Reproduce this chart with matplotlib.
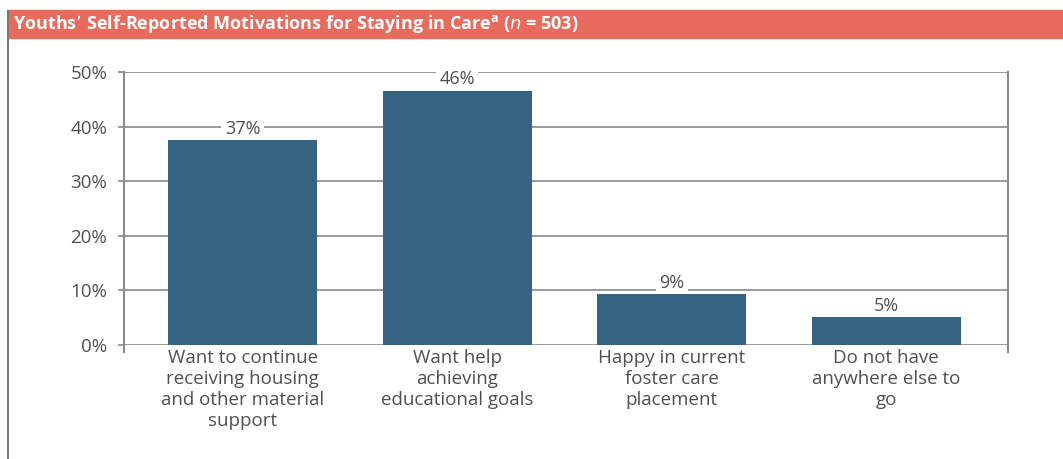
import matplotlib
matplotlib.use('Agg')
import matplotlib.pyplot as plt
from matplotlib.patches import Rectangle
from matplotlib.lines import Line2D

# 数据
categories = ['Want to continue\nreceiving housing\nand other material\nsupport',
              'Want help\nachieving\neducational goals',
              'Happy in current\nfoster care\nplacement',
              'Do not have\nanywhere else to\ngo']
values = [37.6, 46.6, 9.3, 5.2]
value_labels = ['37%', '46%', '9%', '5%']
yticks = [0, 10, 20, 30, 40, 50]
ytick_labels = ['0%', '10%', '20%', '30%', '40%', '50%']

title = 'Youths\u2019 Self-Reported Motivations for Staying in Care$^{\\mathregular{a}}$ ($\\mathregular{\\mathit{n}}$ = 503)'

bar_color = '#346481'
banner_color = '#E86B5D'
text_color = '#505050'
grid_color = '#8a8a8a'

plt.rcParams['font.family'] = ['Open Sans', 'DejaVu Sans']

W, H = 1063, 459
fig = plt.figure(figsize=(W / 100, H / 100), dpi=100)

# 标题横幅
fig.patches.append(Rectangle((8 / W, 1 - 38 / H), 1 - 8 / W, 28 / H,
                             transform=fig.transFigure, color=banner_color, zorder=0))
fig.text(13 / W, 1 - 24 / H, title, color='white', fontsize=13, fontweight='bold',
         va='center', ha='left')
# 左侧边框线
fig.lines.append(Line2D([8 / W, 8 / W], [0, 1 - 11 / H], transform=fig.transFigure,
                        color='#777777', linewidth=1.5))

# 坐标轴区域
left, right, top, bottom = 124, 1008, 72, 345
ax = fig.add_axes([left / W, 1 - bottom / H, (right - left) / W, (bottom - top) / H])

x = range(len(categories))
ax.bar(x, values, width=0.695, color=bar_color, zorder=3)

ax.set_ylim(0, 50)
ax.set_xlim(-0.553, 3.567)
ax.set_yticks(yticks)
ax.set_yticklabels(ytick_labels, fontsize=13.5, color=text_color)
ax.set_xticks(list(x))
ax.set_xticklabels(categories, fontsize=13.5, color=text_color, linespacing=1.22, va='top')
ax.tick_params(axis='x', length=0, pad=3)
ax.tick_params(axis='y', length=4, width=1.2, color=grid_color, pad=8)

ax.grid(axis='y', color=grid_color, linewidth=1.2, zorder=1)
ax.set_axisbelow(True)

for side in ['top', 'bottom']:
    ax.spines[side].set_visible(False)
for side in ['left', 'right']:
    ax.spines[side].set_color(grid_color)
    ax.spines[side].set_linewidth(1.5)
    ax.spines[side].set_bounds(-1.2, 50)
    ax.spines[side].set_clip_on(False)

# 数值标签（白底遮住网格线，但在柱子下层）
for i, (v, lab) in enumerate(zip(values, value_labels)):
    ax.annotate(lab, (i, v), xytext=(0, 1.5), textcoords='offset points',
                ha='center', va='bottom', fontsize=13, color=text_color, zorder=2,
                bbox=dict(facecolor='white', edgecolor='none', pad=2.5))

plt.savefig('out.png', dpi=100)
